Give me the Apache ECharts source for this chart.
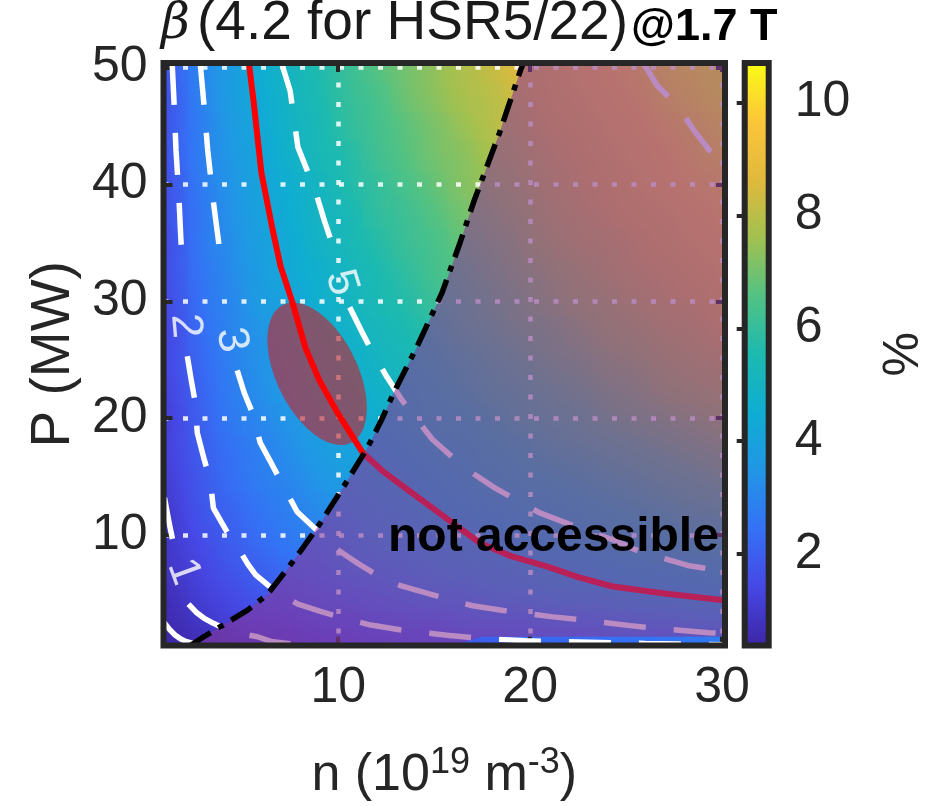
<!DOCTYPE html>
<html>
<head>
<meta charset="utf-8">
<title>beta map</title>
<script src="https://cdn.jsdelivr.net/npm/echarts@6/dist/echarts.min.js"></script>
<style>
  html, body { margin: 0; padding: 0; background: #fff; }
  #chart { width: 937px; height: 806px; }
</style>
</head>
<body>
<div id="chart"></div>
<script>
// ---- data ----

// density, centres of the colour cells (1e19 m^-3)
const densityCols = [1.5, 3, 4.5, 6, 7.5, 9, 10.5, 12, 13.5, 15, 16.5, 18, 19.5, 21, 22.5, 24, 25.5, 27, 28.5, 30];
// heating power, centres of the colour cells (MW)
const powerRows = [0, 2.5, 5, 7.5, 10, 12.5, 15, 17.5, 20, 22.5, 25, 27.5, 30, 32.5, 35, 37.5, 40, 42.5, 45, 47.5, 50];
// beta (%) per cell, one row per power value, bottom row first
const betaRows = [
  [0.4, 0.6, 0.8, 0.9, 1.1, 1.2, 1.3, 1.4, 1.5, 1.6, 1.6, 1.7, 1.8, 1.9, 1.9, 2.0, 2.1, 2.1, 2.2, 2.3],
  [0.6, 0.9, 1.2, 1.4, 1.5, 1.7, 1.8, 2.0, 2.1, 2.2, 2.4, 2.5, 2.6, 2.7, 2.8, 2.9, 3.0, 3.1, 3.2, 3.3],
  [0.8, 1.2, 1.5, 1.8, 2.0, 2.2, 2.4, 2.6, 2.8, 3.0, 3.1, 3.3, 3.4, 3.6, 3.7, 3.8, 4.0, 4.1, 4.2, 4.3],
  [1.0, 1.4, 1.8, 2.1, 2.4, 2.6, 2.9, 3.1, 3.3, 3.5, 3.7, 3.8, 4.0, 4.2, 4.3, 4.5, 4.7, 4.8, 4.9, 5.1],
  [1.1, 1.6, 2.0, 2.4, 2.7, 2.9, 3.2, 3.5, 3.7, 3.9, 4.1, 4.3, 4.5, 4.7, 4.9, 5.1, 5.2, 5.4, 5.6, 5.7],
  [1.2, 1.8, 2.2, 2.6, 2.9, 3.2, 3.5, 3.8, 4.0, 4.3, 4.5, 4.7, 4.9, 5.1, 5.3, 5.5, 5.7, 5.9, 6.1, 6.2],
  [1.3, 1.9, 2.4, 2.8, 3.1, 3.5, 3.8, 4.1, 4.3, 4.6, 4.8, 5.1, 5.3, 5.5, 5.7, 5.9, 6.1, 6.3, 6.5, 6.7],
  [1.4, 2.0, 2.5, 2.9, 3.3, 3.7, 4.0, 4.3, 4.6, 4.9, 5.1, 5.4, 5.6, 5.9, 6.1, 6.3, 6.5, 6.7, 6.9, 7.1],
  [1.4, 2.1, 2.7, 3.1, 3.5, 3.9, 4.2, 4.6, 4.9, 5.2, 5.4, 5.7, 6.0, 6.2, 6.4, 6.7, 6.9, 7.1, 7.3, 7.5],
  [1.5, 2.2, 2.8, 3.3, 3.7, 4.1, 4.4, 4.8, 5.1, 5.4, 5.7, 6.0, 6.2, 6.5, 6.7, 7.0, 7.2, 7.5, 7.7, 7.9],
  [1.6, 2.3, 2.9, 3.4, 3.8, 4.2, 4.6, 5.0, 5.3, 5.6, 5.9, 6.2, 6.5, 6.8, 7.0, 7.3, 7.5, 7.8, 8.0, 8.2],
  [1.6, 2.4, 3.0, 3.5, 4.0, 4.4, 4.8, 5.2, 5.5, 5.8, 6.2, 6.5, 6.8, 7.0, 7.3, 7.6, 7.8, 8.1, 8.3, 8.6],
  [1.7, 2.5, 3.1, 3.7, 4.1, 4.6, 5.0, 5.4, 5.7, 6.1, 6.4, 6.7, 7.0, 7.3, 7.6, 7.8, 8.1, 8.4, 8.6, 8.9],
  [1.8, 2.6, 3.2, 3.8, 4.3, 4.7, 5.1, 5.5, 5.9, 6.3, 6.6, 6.9, 7.2, 7.5, 7.8, 8.1, 8.4, 8.6, 8.9, 9.2],
  [1.8, 2.7, 3.3, 3.9, 4.4, 4.9, 5.3, 5.7, 6.1, 6.4, 6.8, 7.1, 7.4, 7.8, 8.1, 8.3, 8.6, 8.9, 9.2, 9.4],
  [1.9, 2.7, 3.4, 4.0, 4.5, 5.0, 5.4, 5.9, 6.2, 6.6, 7.0, 7.3, 7.6, 8.0, 8.3, 8.6, 8.9, 9.1, 9.4, 9.7],
  [1.9, 2.8, 3.5, 4.1, 4.6, 5.1, 5.6, 6.0, 6.4, 6.8, 7.2, 7.5, 7.8, 8.2, 8.5, 8.8, 9.1, 9.4, 9.7, 9.9],
  [2.0, 2.9, 3.6, 4.2, 4.8, 5.3, 5.7, 6.2, 6.6, 7.0, 7.3, 7.7, 8.0, 8.4, 8.7, 9.0, 9.3, 9.6, 9.9, 10.2],
  [2.0, 2.9, 3.7, 4.3, 4.9, 5.4, 5.9, 6.3, 6.7, 7.1, 7.5, 7.9, 8.2, 8.6, 8.9, 9.2, 9.5, 9.8, 10.1, 10.4],
  [2.0, 3.0, 3.8, 4.4, 5.0, 5.5, 6.0, 6.4, 6.9, 7.3, 7.7, 8.0, 8.4, 8.8, 9.1, 9.4, 9.7, 10.1, 10.4, 10.7],
  [2.1, 3.1, 3.8, 4.5, 5.1, 5.6, 6.1, 6.6, 7.0, 7.4, 7.8, 8.2, 8.6, 8.9, 9.3, 9.6, 9.9, 10.3, 10.6, 10.9]
];

// dashed beta contours [n, P]; null = gap left for the contour label
const contour05 = [[0.9, 2.6], [1.2, 1.95], [1.5, 1.45], [1.8, 1.1], [2.1, 0.88], [2.5, 0.7], [3.0, 0.55]];
const contour1 = [[0.95, 13.2], [1.2, 11.0], [1.45, 9.0], null,
  [2.2, 4.1], [2.6, 3.4], [3.0, 2.9], [3.5, 2.45], [4.0, 2.05], [4.6, 1.75], [5.3, 1.45],
  [5.8, 1.3], [6.5, 0.9], [7.5, 0.7], [8.5, 0.55]];
const contour2 = [[1.35, 50.4], [1.45, 47], [1.55, 43], [1.7, 39], [1.8, 35.5], [1.9, 32.7], null,
  [2.14, 25.3], [2.35, 23.2], [2.55, 21.4], [2.66, 18.75], [3.0, 16.6], [3.33, 14.7], [3.5, 12.3],
  [4.2, 10.3], [4.9, 8.6], [5.3, 7.5], [5.7, 6.6], [6.5, 5.5], [7.2, 4.7], [7.9, 4.1], [9.2, 3.4],
  [10.5, 2.8], [11.7, 2.3], [13.2, 1.9], [15.8, 1.4], [17.5, 1.15], [19.8, 0.95], [22.5, 0.85],
  [26, 0.72], [30.2, 0.62]];
const contour3 = [[2.81, 50.4], [3.0, 47], [3.2, 43], [3.5, 38.5], [3.96, 32.7], null,
  [4.74, 24.1], [5.1, 22.2], [5.52, 20.5], [5.94, 17.9], [6.5, 16.2], [6.98, 14.7], [7.86, 12.0],
  [8.9, 10.4], [9.74, 9.0], [11, 7.6], [12.2, 6.4], [13.2, 5.7], [14.8, 4.95], [17, 3.95],
  [18.6, 3.55], [21.2, 3.0], [22.7, 2.74], [25.2, 2.25], [26.8, 2.0], [29.3, 1.65], [30.2, 1.55]];
const contour5 = [[7.05, 50.4], [7.5, 48], [7.9, 43.2], [8.8, 39.5], [9.3, 36.8], [9.84, 34.2], null,
  [10.6, 29.5], [11.2, 27.5], [11.8, 25.6], [12.55, 23.5], [13.3, 21.6], [14.1, 19.9], [14.9, 18.2],
  [16, 16.6], [17, 15.3], [18.2, 14], [20.5, 11.9], [22.1, 10.9], [24.3, 9.6], [25.7, 8.6],
  [28.2, 7.4], [30.2, 6.9]];
const contour10 = [[25.9, 50.4], [26.6, 48.5], [27.7, 46.7], [28.5, 44.7], [29.3, 43], [30.2, 41.5]];

// contour labels [n, P, text]
const contourLabels = [[1.93, 6.85, '1'], [2.03, 27.9, '2'], [4.43, 26.7, '3'], [10.16, 31.6, '5']];

// solid red curve [n, P]
const redCurve = [[5.35, 50.4], [5.6, 47], [6.0, 41], [6.6, 36], [7.0, 33], [7.6, 30], [8.3, 26],
  [9.0, 23.3], [9.95, 20.5], [11.3, 17.0], [12.3, 15.5], [13.6, 13.9], [15.5, 11.6], [17.4, 9.3],
  [19, 8.2], [20.9, 7.3], [22.5, 6.4], [24.3, 5.6], [27, 5.0], [30.2, 4.4]];

// accessibility limit (black dash-dot) [n, P]
const accessLimit = [[2.3, 0.55], [3.0, 1.3], [4.2, 2.5], [5.3, 3.6], [6.3, 4.9], [7.3, 7.0],
  [8.2, 9.0], [9.06, 11.0], [10.3, 14.2], [11.5, 17.4], [12.3, 20.0], [12.9, 22.2], [14.1, 26.1],
  [15.4, 30.7], [16.3, 34.8], [17.1, 38.7], [18.4, 44.4], [19.5, 49.8], [19.65, 50.4]];
// rest of the shaded "not accessible" area, going round from top right
const shadeEdge = [[30, 50.4], [30, 1.3], [17.5, 1.3], [16, 0.55]];

// operating-point ellipse: centre and two conjugate semi-axes [n, P]
const ellipseCentre = [8.9, 23.8];
const ellipseAxisA = [-1.77, 5.9];
const ellipseAxisB = [1.89, 1.53];

// ---- layout / style ----
const FONT = '"Liberation Sans", Arial, Helvetica, sans-serif';
const INK = '#262626';
const X_MIN = 0.9, X_MAX = 30.15, Y_MIN = 0.55, Y_MAX = 50.4;
const CB_MIN = 0.38, CB_MAX = 10.7;
const VM_MIN = 0.4, VM_MAX = 10.68;
const CELL_HALF_N = 0.75, CELL_HALF_P = 1.25;
const PLOT = {left: 163.5, top: 63, width: 561.5, height: 582.5};
const CBAR = {left: 744.7, top: 63, width: 24, height: 582.5};
const PARULA = ['#3e26a8', '#4648e5', '#3471f5', '#2196e6', '#0fadd2', '#1cbab0',
  '#52c283', '#a1c150', '#e0b93c', '#fcc53a', '#f9fb15'];
const labelTurn = [-70, -85, -80, -73];

// same colour scale as the visualMap, used for the shaded cell fills
const parulaRgb = PARULA.map(h => [1, 3, 5].map(k => parseInt(h.substr(k, 2), 16)));
function parula(v) {
  let t = (v - VM_MIN) / (VM_MAX - VM_MIN);
  t = Math.max(0, Math.min(1, t));
  const x = t * (parulaRgb.length - 1);
  const i = Math.min(Math.floor(x), parulaRgb.length - 2);
  const f = x - i;
  const c = parulaRgb[i].map((a, k) => Math.round(a + (parulaRgb[i + 1][k] - a) * f));
  return 'rgb(' + c.join(',') + ')';
}

const heatData = [];
powerRows.forEach((p, i) => {
  densityCols.forEach((n, j) => heatData.push([n, p, betaRows[i][j], i, j]));
});

function lineData(points) {
  return points.map(p => (p === null ? ['-', '-'] : p));
}

function contourSeries(points) {
  return {
    type: 'line', xAxisIndex: 0, yAxisIndex: 0, z: 3, silent: true,
    symbol: 'none', connectNulls: false,
    data: lineData(points),
    lineStyle: {color: '#ffffff', width: 5.5, type: [42, 28], cap: 'butt'}
  };
}

// each cell is shaded along the local slope of its neighbours (like shading interp)
function renderCell(params, api) {
  const n = api.value(0), p = api.value(1), v = api.value(2);
  const i = api.value(3), j = api.value(4);
  const lastRow = betaRows.length - 1, lastCol = densityCols.length - 1;
  const jl = Math.max(j - 1, 0), jr = Math.min(j + 1, lastCol);
  const id = Math.max(i - 1, 0), iu = Math.min(i + 1, lastRow);
  const gx = (betaRows[i][jr] - betaRows[i][jl]) / (jr - jl);
  const gy = (betaRows[iu][j] - betaRows[id][j]) / (iu - id);
  const a = api.coord([n - CELL_HALF_N, p + CELL_HALF_P]);
  const b = api.coord([n + CELL_HALF_N, p - CELL_HALF_P]);
  const w = b[0] - a[0], h = b[1] - a[1];
  const cx = (a[0] + b[0]) / 2, cy = (a[1] + b[1]) / 2;
  const ex = gx / w, ey = -gy / h;
  const e2 = ex * ex + ey * ey;
  let fill = api.visual('color');
  if (e2 > 1e-12) {
    const span = Math.abs(gx) / 2 + Math.abs(gy) / 2;
    const stops = [];
    for (let k = 0; k <= 4; k++) {
      stops.push({offset: k / 4, color: parula(v - span + k * span / 2)});
    }
    fill = {
      type: 'linear', global: true,
      x: cx - span * ex / e2, y: cy - span * ey / e2,
      x2: cx + span * ex / e2, y2: cy + span * ey / e2,
      colorStops: stops
    };
  }
  return {
    type: 'rect',
    shape: {x: a[0] - 0.5, y: a[1] - 0.5, width: w + 1, height: h + 1},
    style: {fill: fill}
  };
}

const chart = echarts.init(document.getElementById('chart'));

const option = {
  animation: false,
  grid: [
    {left: PLOT.left, top: PLOT.top, width: PLOT.width, height: PLOT.height, outerBoundsMode: 'none'},
    {left: CBAR.left, top: CBAR.top, width: CBAR.width, height: CBAR.height, outerBoundsMode: 'none'}
  ],
  xAxis: [
    {
      type: 'value', gridIndex: 0, position: 'bottom', min: X_MIN, max: X_MAX, splitNumber: 3, z: 2,
      axisLine: {show: false},
      axisTick: {show: true, inside: true, length: 9, lineStyle: {color: INK, width: 4}},
      axisLabel: {margin: 18, fontSize: 50, color: INK, fontFamily: FONT, showMinLabel: false, showMaxLabel: false},
      splitLine: {show: true, lineStyle: {color: 'rgba(255,255,255,0.85)', width: 4.5, type: [5, 14.5]}},
      name: '{a|n (10}{s|19}{a| m}{s|-3}{a|)}',
      nameLocation: 'middle', nameGap: 100,
      nameTextStyle: {
        rich: {
          a: {fontSize: 52, lineHeight: 60, color: INK, fontFamily: FONT},
          s: {fontSize: 36, lineHeight: 33, verticalAlign: 'top', color: INK, fontFamily: FONT}
        }
      }
    },
    {
      type: 'value', gridIndex: 0, position: 'top', min: X_MIN, max: X_MAX, splitNumber: 3, z: 2,
      axisLine: {show: false},
      axisTick: {show: true, inside: true, length: 9, lineStyle: {color: INK, width: 4}},
      axisLabel: {show: false}, splitLine: {show: false}
    },
    {type: 'value', gridIndex: 1, min: 0, max: 1, show: false}
  ],
  yAxis: [
    {
      type: 'value', gridIndex: 0, position: 'left', min: Y_MIN, max: Y_MAX, splitNumber: 5, z: 2,
      axisLine: {show: false},
      axisTick: {show: true, inside: true, length: 9, lineStyle: {color: INK, width: 4}},
      axisLabel: {margin: 16, fontSize: 50, color: INK, fontFamily: FONT, showMinLabel: false, showMaxLabel: false},
      splitLine: {show: true, lineStyle: {color: 'rgba(255,255,255,0.85)', width: 4.5, type: [5, 14.5]}},
      name: 'P (MW)', nameLocation: 'middle', nameGap: 78, nameRotate: 90,
      nameTextStyle: {fontSize: 55, color: INK, fontFamily: FONT}
    },
    {
      type: 'value', gridIndex: 0, position: 'right', min: Y_MIN, max: Y_MAX, splitNumber: 5, z: 2,
      axisLine: {show: false},
      axisTick: {show: true, inside: true, length: 9, lineStyle: {color: INK, width: 4}},
      axisLabel: {show: false}, splitLine: {show: false}
    },
    {
      type: 'value', gridIndex: 1, position: 'right', min: CB_MIN, max: CB_MAX, splitNumber: 5, z: 2,
      axisLine: {show: false},
      axisTick: {show: true, inside: true, length: 8, lineStyle: {color: INK, width: 4}},
      axisLabel: {margin: 26, fontSize: 50, color: INK, fontFamily: FONT, showMinLabel: false, showMaxLabel: false},
      splitLine: {show: false},
      name: '%', nameLocation: 'middle', nameGap: 111, nameRotate: 90,
      nameTextStyle: {fontSize: 50, color: INK, fontFamily: FONT}
    }
  ],
  visualMap: {
    type: 'continuous', show: false, seriesIndex: 0, dimension: 2,
    min: VM_MIN, max: VM_MAX, inRange: {color: PARULA}
  },
  series: [
    {
      // colour map
      type: 'custom', xAxisIndex: 0, yAxisIndex: 0, z: 1, silent: true, clip: true,
      encode: {x: 0, y: 1},
      data: heatData,
      renderItem: renderCell
    },
    contourSeries(contour05),
    contourSeries(contour1),
    contourSeries(contour2),
    contourSeries(contour3),
    contourSeries(contour5),
    contourSeries(contour10),
    {
      type: 'scatter', xAxisIndex: 0, yAxisIndex: 0, z: 3, silent: true,
      symbol: 'circle', symbolSize: 1, itemStyle: {color: 'rgba(0,0,0,0)'},
      data: contourLabels.map((d, i) => ({name: d[2], value: [d[0], d[1]], label: {rotate: labelTurn[i]}})),
      label: {show: true, position: 'inside', formatter: p => p.name, color: '#ffffff', fontSize: 44, fontFamily: FONT}
    },
    {
      // operating window ellipse
      type: 'custom', xAxisIndex: 0, yAxisIndex: 0, z: 4, silent: true, clip: true,
      data: [ellipseCentre],
      renderItem: (params, api) => {
        const pts = [];
        for (let k = 0; k < 96; k++) {
          const t = k / 96 * Math.PI * 2;
          pts.push(api.coord([
            ellipseCentre[0] + Math.cos(t) * ellipseAxisA[0] + Math.sin(t) * ellipseAxisB[0],
            ellipseCentre[1] + Math.cos(t) * ellipseAxisA[1] + Math.sin(t) * ellipseAxisB[1]
          ]));
        }
        return {type: 'polygon', shape: {points: pts}, style: {fill: 'rgba(195,35,45,0.62)'}};
      }
    },
    {
      type: 'line', xAxisIndex: 0, yAxisIndex: 0, z: 5, silent: true, symbol: 'none',
      data: redCurve,
      lineStyle: {color: '#ff0000', width: 6}
    },
    {
      // not accessible region
      type: 'custom', xAxisIndex: 0, yAxisIndex: 0, z: 6, silent: true, clip: true,
      data: [[X_MAX, Y_MAX]],
      renderItem: (params, api) => {
        const pts = accessLimit.concat(shadeEdge).map(p => api.coord(p));
        return {type: 'polygon', shape: {points: pts}, style: {fill: 'rgba(135,55,150,0.58)'}};
      }
    },
    {
      type: 'line', xAxisIndex: 0, yAxisIndex: 0, z: 7, silent: true, symbol: 'none',
      data: accessLimit,
      lineStyle: {color: '#000000', width: 5.5, type: [24, 9, 6, 9], cap: 'butt'}
    },
    {
      // colour bar
      type: 'custom', xAxisIndex: 2, yAxisIndex: 2, z: 2, silent: true,
      data: [[0, VM_MIN]],
      renderItem: (params, api) => {
        const a = api.coord([0, VM_MAX]);
        const b = api.coord([1, VM_MIN]);
        return {
          type: 'rect',
          shape: {x: a[0], y: a[1], width: b[0] - a[0], height: b[1] - a[1]},
          style: {
            fill: {
              type: 'linear', x: 0, y: 1, x2: 0, y2: 0,
              colorStops: PARULA.map((c, i) => ({offset: i / (PARULA.length - 1), color: c}))
            }
          }
        };
      }
    }
  ],
  graphic: [
    {
      type: 'rect', z: 50, silent: true,
      shape: {x: PLOT.left, y: PLOT.top, width: PLOT.width, height: PLOT.height},
      style: {fill: 'none', stroke: INK, lineWidth: 6}
    },
    {
      type: 'rect', z: 50, silent: true,
      shape: {x: CBAR.left, y: CBAR.top, width: CBAR.width, height: CBAR.height},
      style: {fill: 'none', stroke: INK, lineWidth: 6}
    },
    {
      type: 'text', x: 161, y: 25, z: 50, silent: true,
      style: {text: 'β', fontSize: 50, fontStyle: 'italic', fontFamily: '"DejaVu Serif", serif',
        fill: '#1a1a1a', verticalAlign: 'middle'}
    },
    {
      type: 'text', x: 197, y: 24, z: 50, silent: true,
      style: {text: '(4.2 for HSR5/22)', fontSize: 55, fontFamily: FONT, fill: '#1a1a1a', verticalAlign: 'middle'}
    },
    {
      type: 'text', x: 631, y: 28, z: 50, silent: true,
      style: {text: '@1.7 T', fontSize: 45, fontWeight: 'bold', fontFamily: FONT, fill: '#000', verticalAlign: 'middle'}
    },
    {
      type: 'text', x: 388, y: 538, z: 50, silent: true,
      style: {text: 'not accessible', fontSize: 48, fontWeight: 'bold', fontFamily: FONT, fill: '#000', verticalAlign: 'middle'}
    }
  ]
};

chart.setOption(option);
</script>
</body>
</html>
